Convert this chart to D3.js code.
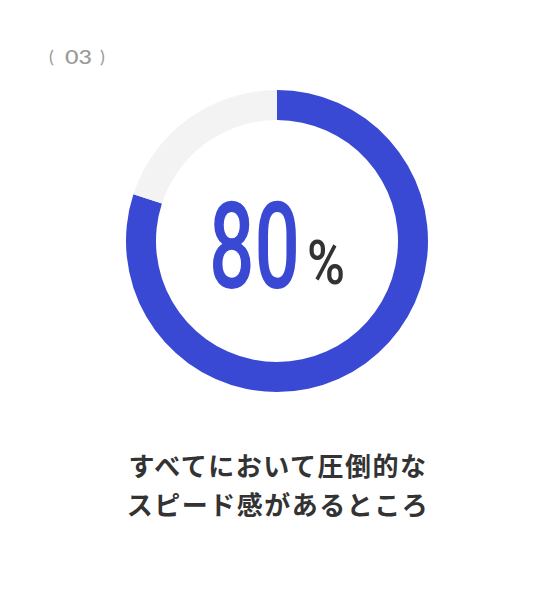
<!DOCTYPE html>
<html>
<head>
<meta charset="utf-8">
<script src="https://cdn.jsdelivr.net/npm/d3@7"></script>
<style>
  html, body { margin: 0; padding: 0; background: #fff; }
</style>
</head>
<body>
<script>
// chart data
const segments = ["achieved", "rest"];
const values = [80, 20];
const segmentColors = ["#3a49d3", "#f3f3f3"];
const indexLabel = "03";
const valueLabel = "80";
const captionLines = ["すべてにおいて圧倒的な", "スピード感があるところ"];

const width = 554;
const height = 600;
const cx = 277, cy = 241;
const outerR = 151, innerR = 121;

const svg = d3.select("body")
  .append("svg")
  .attr("width", width)
  .attr("height", height);

// index label top-left: ( 03 )
const idx = svg.append("g")
  .style("font-family", "Lato, sans-serif")
  .style("fill", "#999");

idx.append("text")
  .attr("x", 49).attr("y", 63)
  .style("font-size", "18px")
  .style("font-weight", 400)
  .text("(");

idx.append("text")
  .attr("x", 65).attr("y", 64)
  .attr("textLength", 27)
  .attr("lengthAdjust", "spacingAndGlyphs")
  .style("font-size", "18.5px")
  .style("font-weight", 500)
  .text(indexLabel);

idx.append("text")
  .attr("x", 100).attr("y", 63)
  .style("font-size", "18px")
  .style("font-weight", 400)
  .text(")");

// donut ring
const pie = d3.pie().sort(null).value(d => d);
const arc = d3.arc().innerRadius(innerR).outerRadius(outerR);

const ring = svg.append("g")
  .attr("transform", `translate(${cx},${cy})`);

ring.selectAll("path")
  .data(pie(values))
  .enter().append("path")
  .attr("d", arc)
  .attr("fill", (d, i) => segmentColors[i]);

// big number
svg.append("text")
  .attr("x", 209)
  .attr("y", 288)
  .attr("textLength", 91)
  .attr("lengthAdjust", "spacingAndGlyphs")
  .style("font-family", "Roboto, sans-serif")
  .style("font-weight", 500)
  .style("font-size", "120px")
  .style("fill", segmentColors[0])
  .text(valueLabel);

svg.append("text")
  .attr("x", 307)
  .attr("y", 284)
  .attr("textLength", 38)
  .attr("lengthAdjust", "spacingAndGlyphs")
  .style("font-family", "Roboto, sans-serif")
  .style("font-weight", 500)
  .style("font-size", "61px")
  .style("fill", "#333")
  .text("%");

// caption
svg.selectAll(".caption")
  .data(captionLines)
  .enter().append("text")
  .attr("class", "caption")
  .attr("x", cx + 1)
  .attr("y", (d, i) => 476 + i * 39)
  .attr("text-anchor", "middle")
  .style("font-family", "'Noto Sans CJK JP', sans-serif")
  .style("font-weight", 700)
  .style("font-size", "26px")
  .style("letter-spacing", "1.5px")
  .style("fill", "#333")
  .text(d => d);
</script>
</body>
</html>
